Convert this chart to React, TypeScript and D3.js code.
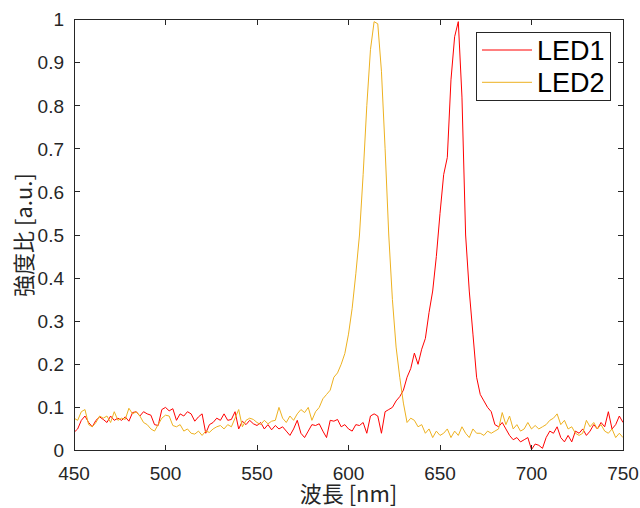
import React from "react";
import * as d3 from "d3";

const wavelengthStart = 450;
const wavelengthStep = 2;

const led1: number[] = [
  0.042, 0.05, 0.07, 0.08, 0.065, 0.055, 0.07, 0.078, 0.072, 0.065,
  0.08, 0.07, 0.075, 0.07, 0.078, 0.068, 0.088, 0.09, 0.08, 0.09,
  0.085, 0.082, 0.06, 0.058, 0.095, 0.1, 0.092, 0.097, 0.07, 0.085,
  0.08, 0.09, 0.085, 0.068, 0.078, 0.085, 0.04, 0.06, 0.065, 0.075,
  0.07, 0.085, 0.07, 0.072, 0.09, 0.05, 0.068, 0.06, 0.07, 0.062,
  0.058, 0.065, 0.05, 0.06, 0.048, 0.058, 0.05, 0.055, 0.045, 0.035,
  0.05, 0.07, 0.04, 0.03, 0.045, 0.06, 0.058, 0.062, 0.045, 0.03,
  0.07, 0.068, 0.072, 0.055, 0.06, 0.05, 0.045, 0.06, 0.058, 0.065,
  0.04, 0.08, 0.085, 0.08, 0.04, 0.09, 0.095, 0.1, 0.115, 0.125,
  0.14, 0.17, 0.19, 0.226, 0.2, 0.235, 0.26, 0.32, 0.37, 0.45,
  0.55, 0.64, 0.68, 0.86, 0.96, 0.995, 0.82, 0.5, 0.37, 0.27,
  0.17, 0.13, 0.115, 0.1, 0.09, 0.06, 0.055, 0.065, 0.05, 0.035,
  0.025, 0.03, 0.02, 0.025, 0.03, 0.002, 0.015, 0.012, 0.005, 0.03,
  0.045, 0.04, 0.055, 0.03, 0.02, 0.035, 0.02, 0.045, 0.04, 0.05,
  0.035, 0.045, 0.06, 0.05, 0.065, 0.055, 0.09, 0.05, 0.06, 0.08,
  0.065,
];

const led2: number[] = [
  0.075, 0.07, 0.09, 0.095, 0.06, 0.055, 0.065, 0.08, 0.075, 0.08,
  0.065, 0.09, 0.07, 0.075, 0.072, 0.098, 0.085, 0.09, 0.08, 0.065,
  0.06, 0.05, 0.045, 0.06, 0.075, 0.082, 0.08, 0.058, 0.055, 0.06,
  0.045, 0.05, 0.04, 0.038, 0.045, 0.035, 0.045, 0.042, 0.05, 0.055,
  0.058, 0.05, 0.06, 0.055, 0.075, 0.095, 0.055, 0.07, 0.075, 0.072,
  0.065, 0.06, 0.07, 0.062, 0.068, 0.07, 0.1, 0.075, 0.065, 0.08,
  0.07, 0.085, 0.095, 0.088, 0.1, 0.07, 0.09, 0.1, 0.12, 0.13,
  0.14, 0.17, 0.18, 0.2, 0.225, 0.27, 0.33, 0.41, 0.5, 0.64,
  0.8, 0.93, 0.995, 0.99, 0.88, 0.7, 0.5, 0.35, 0.24, 0.17,
  0.11, 0.065, 0.075, 0.07, 0.055, 0.06, 0.04, 0.05, 0.03, 0.045,
  0.035, 0.04, 0.05, 0.03, 0.045, 0.035, 0.055, 0.04, 0.03, 0.05,
  0.04, 0.04, 0.035, 0.045, 0.04, 0.045, 0.05, 0.088, 0.06, 0.08,
  0.05, 0.06, 0.045, 0.05, 0.065, 0.05, 0.058, 0.05, 0.055, 0.06,
  0.07, 0.075, 0.085, 0.06, 0.07, 0.05, 0.055, 0.04, 0.035, 0.04,
  0.07, 0.055, 0.065, 0.05, 0.06, 0.045, 0.04, 0.05, 0.03, 0.04,
  0.03,
];

const seriesNames = ["LED1", "LED2"];
const seriesColors = ["#ff0000", "#edb120"];
const xTicks = [450, 500, 550, 600, 650, 700, 750];
const yTicks = [0, 0.1, 0.2, 0.3, 0.4, 0.5, 0.6, 0.7, 0.8, 0.9, 1];
const xLabel = "波長 [nm]";
const yLabel = "強度比 [a.u.]";

const W = 640;
const H = 508;
const left = 74;
const right = 623;
const top = 19.5;
const bottom = 450.5;

export default function App() {
  const x = d3.scaleLinear().domain([450, 750]).range([left, right]);
  const y = d3.scaleLinear().domain([0, 1]).range([bottom, top]);
  const toPts = (arr: number[]) =>
    arr.map((v, i) => [wavelengthStart + i * wavelengthStep, v] as [number, number]);
  const line = d3
    .line<[number, number]>()
    .x((d) => x(d[0]))
    .y((d) => y(d[1]));
  const series = [led1, led2];
  const axisColor = "#262626";
  const tickFont = "'Liberation Sans', Arial, sans-serif";
  const cjkFont = "'Noto Sans CJK JP', 'Noto Sans', sans-serif";
  const tl = 5.5;

  return (
    <svg
      width={W}
      height={H}
      style={{ position: "absolute", left: 0, top: 0, background: "#fff" }}
    >
      <rect x={0} y={0} width={W} height={H} fill="#fff" />
      <defs>
        <clipPath id="plotclip">
          <rect x={left} y={top - 2} width={right - left} height={bottom - top + 2} />
        </clipPath>
      </defs>
      <g clipPath="url(#plotclip)">
        {series.map((s, i) => (
          <path
            key={seriesNames[i]}
            d={line(toPts(s)) || ""}
            fill="none"
            stroke={seriesColors[i]}
            strokeWidth={1}
            strokeLinejoin="round"
          />
        ))}
      </g>
      <rect
        x={left}
        y={top}
        width={right - left}
        height={bottom - top}
        fill="none"
        stroke={axisColor}
        strokeWidth={1}
        shapeRendering="crispEdges"
      />
      {xTicks.map((t) => (
        <g key={"x" + t}>
          <line x1={x(t)} x2={x(t)} y1={bottom} y2={bottom - tl} stroke={axisColor} shapeRendering="crispEdges" />
          <line x1={x(t)} x2={x(t)} y1={top} y2={top + tl} stroke={axisColor} shapeRendering="crispEdges" />
          <text
            x={x(t)}
            y={480}
            textAnchor="middle"
            fontFamily={tickFont}
            fontSize={19}
            fill={axisColor}
          >
            {t}
          </text>
        </g>
      ))}
      {yTicks.map((t) => (
        <g key={"y" + t}>
          <line x1={left} x2={left + tl} y1={y(t)} y2={y(t)} stroke={axisColor} shapeRendering="crispEdges" />
          <line x1={right} x2={right - tl} y1={y(t)} y2={y(t)} stroke={axisColor} shapeRendering="crispEdges" />
          <text
            x={64}
            y={y(t)}
            dy="0.36em"
            textAnchor="end"
            fontFamily={tickFont}
            fontSize={19}
            fill={axisColor}
          >
            {String(t)}
          </text>
        </g>
      ))}
      <text
        x={(left + right) / 2}
        y={502}
        textAnchor="middle"
        fontFamily={cjkFont}
        fontSize={22}
        fill={axisColor}
      >
        {xLabel}
      </text>
      <text
        transform={`translate(32, ${(top + bottom) / 2}) rotate(-90)`}
        textAnchor="middle"
        fontFamily={cjkFont}
        fontSize={22}
        fill={axisColor}
      >
        {yLabel}
      </text>
      <g>
        <rect
          x={476.5}
          y={32.5}
          width={133.5}
          height={67.5}
          fill="#fff"
          stroke={axisColor}
          strokeWidth={1}
          shapeRendering="crispEdges"
        />
        {seriesNames.map((n, i) => {
          const ly = i === 0 ? 50 : 82.3;
          return (
            <g key={"lg" + n}>
              <line x1={482} x2={532} y1={ly} y2={ly} stroke={seriesColors[i]} strokeWidth={1} />
              <text
                x={537}
                y={ly}
                dy="0.36em"
                fontFamily={tickFont}
                fontSize={27}
                fill="#000"
              >
                {n}
              </text>
            </g>
          );
        })}
      </g>
    </svg>
  );
}
